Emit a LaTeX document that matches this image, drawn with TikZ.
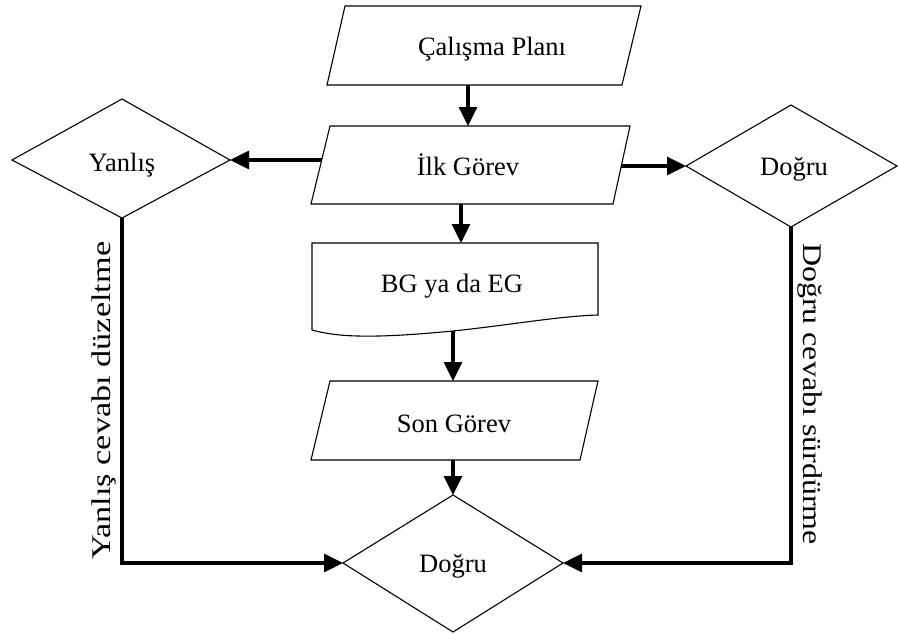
\documentclass[tikz,border=0pt]{standalone}
\usepackage{fontspec}
\usepackage{graphicx}
\setmainfont{Liberation Serif}
\usetikzlibrary{arrows.meta}
\newsavebox\lsidebox
\newsavebox\rsidebox
\begin{document}
\sbox\lsidebox{\fontsize{27}{32}\selectfont Yanlış cevabı düzeltme}
\sbox\rsidebox{\fontsize{27}{32}\selectfont Doğru cevabı sürdürme}
\pgfmathsetmacro\lsidefac{318/\wd\lsidebox}
\pgfmathsetmacro\rsidefac{302/\wd\rsidebox}
\begin{tikzpicture}[x=1pt,y=-1pt,
  shapeline/.style={draw=black,line width=1.1pt,line join=miter},
  conn/.style={line width=3.2pt,-{Triangle[length=19pt,width=18pt]}},
  lbl/.style={anchor=base,font=\fontsize{26.5}{30}\selectfont,inner sep=0pt},
  side/.style={inner sep=0pt}]
\useasboundingbox[fill=white] (0,0) rectangle (898,633);

% shapes
\draw[shapeline] (345,6) -- (641,6) -- (622,85) -- (327,85) -- cycle;
\draw[shapeline] (330,126) -- (630,126) -- (613,204) -- (311,204) -- cycle;
\draw[shapeline] (312,330) -- (312,243) -- (598,243) -- (598,315)
   .. controls (560,316) and (510,325) .. (453,331)
   .. controls (380,338) and (340,338) .. (312,330);
\draw[shapeline] (330,381) -- (598,381) -- (580,460) -- (311,460) -- cycle;
\draw[shapeline] (12,160) -- (122,99) -- (230,160) -- (122,218) -- cycle;
\draw[shapeline] (686,166) -- (791,105) -- (897,166) -- (791,227) -- cycle;
\draw[shapeline] (453,495) -- (563,563) -- (453,632) -- (343,563) -- cycle;

% texts
\node[lbl] (plan) at (492,55) {Çalışma Planı};
\node[lbl] (ilk) at (468,175) {İlk Görev};
\node[lbl] (yan) at (122,171) {Yanlış};
\node[lbl] (dog) at (794,175) {Doğru};
\node[lbl] (bg) at (452,292) {BG ya da EG};
\node[lbl] (son) at (454,432) {Son Görev};
\node[lbl] (fin) at (453,572) {Doğru};
\node[side,anchor=base west,rotate=90] (ltxt) at (110,560) {\scalebox{\lsidefac}[1]{\usebox\lsidebox}};
\node[side,anchor=base,rotate=-90] (rtxt) at (803,394) {\scalebox{\rsidefac}[1]{\usebox\rsidebox}};

% connector ends
\coordinate (planB) at (468,85);
\coordinate (ilkT) at (468,126);
\coordinate (ilkL) at (322,160);
\coordinate (ilkR) at (621,166);
\coordinate (ilkB) at (461,204);
\coordinate (yanR) at (230,160);
\coordinate (yanB) at (122,218);
\coordinate (dogL) at (686,166);
\coordinate (dogB) at (791,227);
\coordinate (bgT) at (461,243);
\coordinate (bgB) at (453,331);
\coordinate (sonT) at (453,381);
\coordinate (sonB) at (453,460);
\coordinate (finT) at (453,495);
\coordinate (finL) at (343,563);
\coordinate (finR) at (563,563);

% connectors
\draw[conn] (planB) -- (ilkT);
\draw[conn] (ilkL) -- (yanR);
\draw[conn] (ilkR) -- (dogL);
\draw[conn] (ilkB) -- (bgT);
\draw[conn] (bgB) -- (sonT);
\draw[conn] (sonB) -- (finT);
\draw[conn] (yanB) |- (finL);
\draw[conn] (dogB) |- (finR);
\end{tikzpicture}
\end{document}
